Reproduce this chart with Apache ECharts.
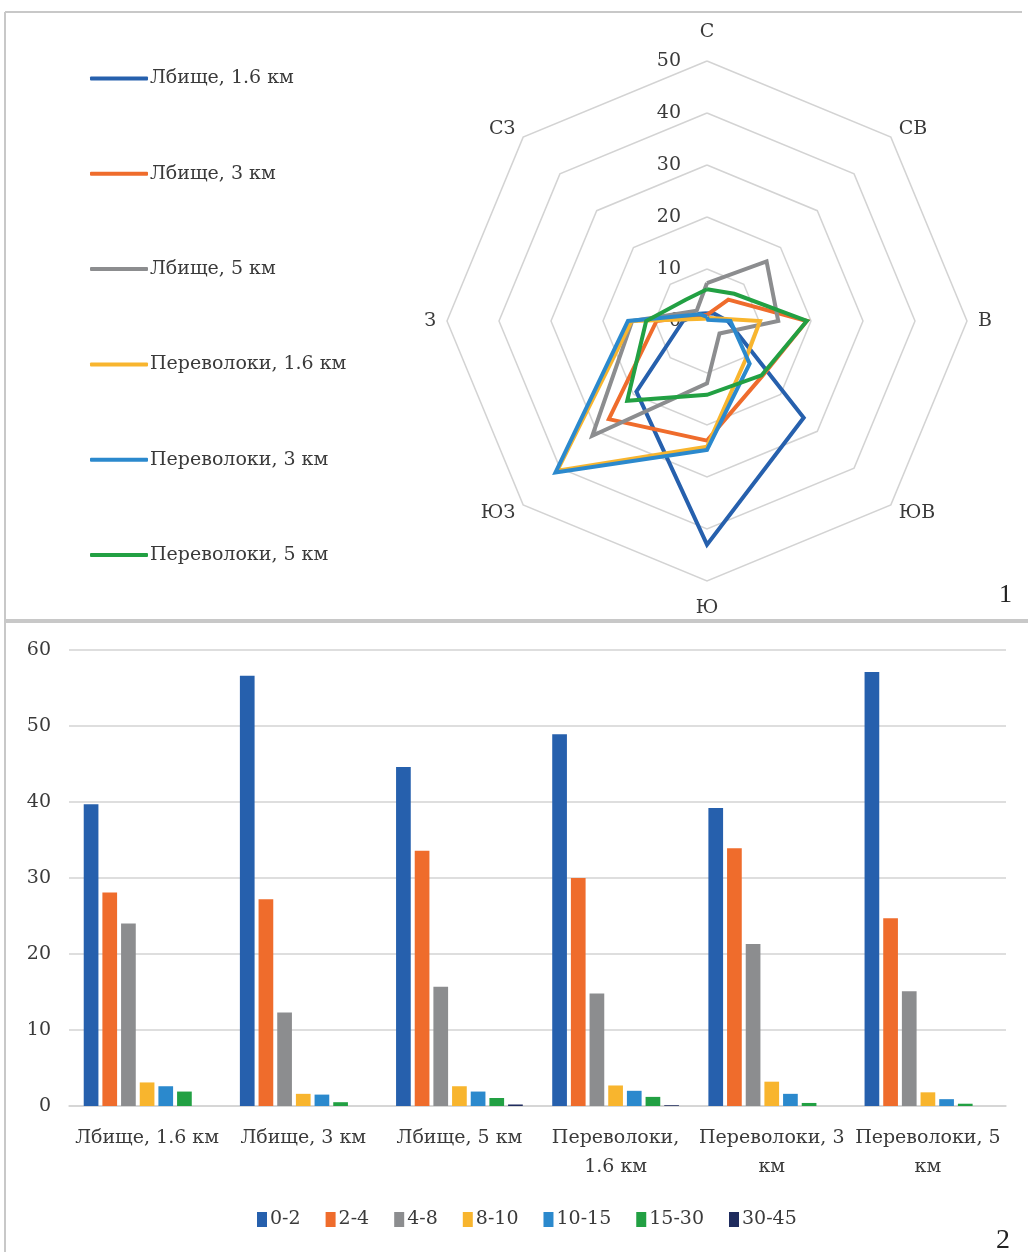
<!DOCTYPE html>
<html><head><meta charset="utf-8">
<script src="https://cdn.jsdelivr.net/npm/echarts@6/dist/echarts.min.js"></script>
<style>html,body{margin:0;padding:0;background:#fff}#c{width:1028px;height:1252px}</style>
</head><body><div id="c"></div>
<script>
// ---- Radar (wind directions, %) ----
const directions = ['С', 'СВ', 'В', 'ЮВ', 'Ю', 'ЮЗ', 'З', 'СЗ'];
const radarTicks = [0, 10, 20, 30, 40, 50];
const lbische16 = [1.5, 2.0, 4.0, 26.3, 43.0, 19.2, 4.6, 2.0];
const lbische3 = [1.2, 5.8, 19.2, 15.0, 23.0, 26.7, 9.7, 1.5];
const lbische5 = [7.3, 16.2, 13.7, 3.4, 12.0, 31.2, 14.4, 2.8];
const perevoloki16 = [0.5, 0.8, 10.2, 10.5, 24.2, 40.7, 14.5, 0.6];
const perevoloki3 = [0.8, 0.3, 4.5, 11.6, 24.8, 41.2, 15.2, 1.8];
const perevoloki5 = [6.1, 7.4, 19.2, 14.8, 14.2, 21.7, 11.7, 5.8];
const radarNames = ['Лбище, 1.6 км', 'Лбище, 3 км', 'Лбище, 5 км', 'Переволоки, 1.6 км', 'Переволоки, 3 км', 'Переволоки, 5 км'];

// ---- Bars (wind speed classes, %) ----
const sites = ['Лбище, 1.6 км', 'Лбище, 3 км', 'Лбище, 5 км', 'Переволоки, 1.6 км', 'Переволоки, 3 км', 'Переволоки, 5 км'];
const speedClasses = ['0-2', '2-4', '4-8', '8-10', '10-15', '15-30', '30-45'];
const speed0_2 = [39.7, 56.6, 44.6, 48.9, 39.2, 57.1];
const speed2_4 = [28.1, 27.2, 33.6, 30.0, 33.9, 24.7];
const speed4_8 = [24.0, 12.3, 15.7, 14.8, 21.3, 15.1];
const speed8_10 = [3.1, 1.6, 2.6, 2.7, 3.2, 1.8];
const speed10_15 = [2.6, 1.5, 1.9, 2.0, 1.6, 0.9];
const speed15_30 = [1.9, 0.5, 1.05, 1.2, 0.4, 0.3];
const speed30_45 = [0, 0, 0.2, 0.1, 0, 0];
const barTicks = [0, 10, 20, 30, 40, 50, 60];

const radarColors = ['#2660ad', '#ef6c2c', '#8c8d8f', '#f8b52e', '#2b89cd', '#22a043'];
const barColors = ['#2660ad', '#ef6c2c', '#8c8d8f', '#f8b52e', '#2b89cd', '#22a043', '#1f2c5e'];
const FONT = 'DejaVu Serif';
const FS = 19;
const TXT = '#3a3a3a';

// ECharts lays radar indicators counter-clockwise: reorder so compass reads clockwise
const order = [0, 7, 6, 5, 4, 3, 2, 1];
const reorder = arr => order.map(i => arr[i]);
const radarData = [lbische16, lbische3, lbische5, perevoloki16, perevoloki3, perevoloki5];
const barData = [speed0_2, speed2_4, speed4_8, speed8_10, speed10_15, speed15_30, speed30_45];

const indicator = order.map((i, k) => {
  const o = { name: directions[i], min: radarTicks[0], max: radarTicks[radarTicks.length - 1] };
  if (k === 0) o.axisLabel = { show: true };
  return o;
});

const chart = echarts.init(document.getElementById('c'), null, { renderer: 'canvas' });
chart.setOption({
  animation: false,
  backgroundColor: '#fff',
  textStyle: { fontFamily: FONT },
  radar: {
    center: [707, 321],
    radius: 260,
    startAngle: 90,
    splitNumber: radarTicks.length - 1,
    shape: 'polygon',
    nameGap: 11,
    axisName: {
      color: TXT, fontFamily: FONT, fontSize: FS,
      formatter: n => n === 'С' ? '{up|' + n + '}' : (n === 'Ю' ? '{down|' + n + '}' : n),
      rich: {
        up: { color: TXT, fontFamily: FONT, fontSize: FS, padding: [0, 0, 8, 0] },
        down: { color: TXT, fontFamily: FONT, fontSize: FS, padding: [7, 0, 0, 0] }
      }
    },
    axisLine: { show: false },
    axisTick: { show: false },
    splitArea: { show: false },
    splitLine: { lineStyle: { color: '#d3d3d3', width: 1.5 } },
    axisLabel: { show: false, color: TXT, fontFamily: FONT, fontSize: FS, margin: 26 },
    indicator: indicator
  },
  legend: [
    {
      data: radarNames,
      orient: 'vertical',
      left: 85, top: 63.5,
      itemWidth: 58, itemHeight: 4,
      itemGap: 75.3,
      icon: 'roundRect',
      textStyle: { color: TXT, fontFamily: FONT, fontSize: FS, lineHeight: 20, padding: [0, 0, 0, -3] }
    },
    {
      data: speedClasses,
      left: 252, top: 1205,
      itemWidth: 10, itemHeight: 15,
      itemGap: 25,
      icon: 'rect',
      textStyle: { color: TXT, fontFamily: FONT, fontSize: FS, padding: [0, 0, 0, -2] }
    }
  ],
  grid: { left: 69, right: 22, top: 650, bottom: 146 },
  xAxis: {
    type: 'category',
    data: sites,
    axisLine: { lineStyle: { color: '#d3d3d3', width: 1.5 } },
    axisTick: { show: false },
    axisLabel: {
      color: TXT, fontFamily: FONT, fontSize: FS, lineHeight: 29, margin: 18, interval: 0,
      formatter: v => v.replace('Переволоки, 1.6 км', 'Переволоки,\n1.6 км')
                      .replace('Переволоки, 3 км', 'Переволоки, 3\nкм')
                      .replace('Переволоки, 5 км', 'Переволоки, 5\nкм')
    }
  },
  yAxis: {
    type: 'value',
    min: barTicks[0], max: barTicks[barTicks.length - 1], interval: barTicks[1] - barTicks[0],
    axisLine: { show: false },
    axisTick: { show: false },
    axisLabel: { color: TXT, fontFamily: FONT, fontSize: FS, margin: 18 },
    splitLine: { lineStyle: { color: '#d3d3d3', width: 1.5 } }
  },
  series: [
    ...radarData.map((d, i) => ({
      name: radarNames[i],
      type: 'radar',
      symbol: 'none',
      color: radarColors[i],
      lineStyle: { width: 4, color: radarColors[i], join: 'miter' },
      itemStyle: { color: radarColors[i] },
      data: [{ value: reorder(d), name: radarNames[i] }]
    })),
    ...barData.map((d, i) => ({
      name: speedClasses[i],
      type: 'bar',
      data: d,
      barWidth: 14.7,
      barGap: '27%',
      itemStyle: { color: barColors[i] }
    }))
  ],
  graphic: [
    { type: 'line', shape: { x1: 5, y1: 12, x2: 1022, y2: 12 }, style: { stroke: '#c8c8c8', lineWidth: 2 } },
    { type: 'line', shape: { x1: 5, y1: 12, x2: 5, y2: 1252 }, style: { stroke: '#c8c8c8', lineWidth: 2 } },
    { type: 'line', shape: { x1: 5, y1: 621, x2: 1028, y2: 621 }, style: { stroke: '#c8c8c8', lineWidth: 4 } },
    { type: 'text', left: 999, top: 582, style: { text: '1', font: '26px "Liberation Serif"', fill: '#222' } },
    { type: 'text', left: 996, top: 1227, style: { text: '2', font: '28px "Liberation Serif"', fill: '#222' } }
  ]
});
</script>
</body></html>
